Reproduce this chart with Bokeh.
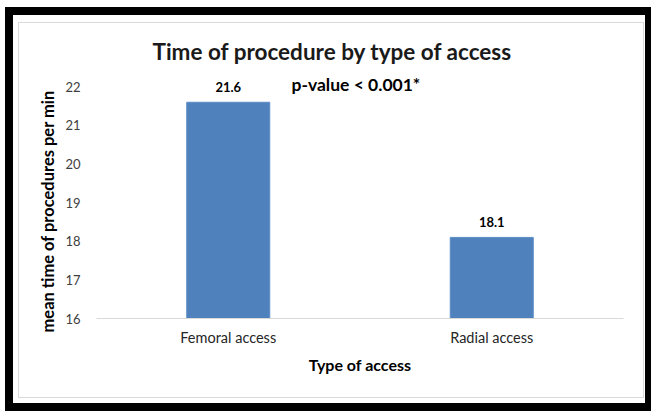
from bokeh.plotting import figure
from bokeh.models import (ColumnDataSource, FactorRange, Range1d, FixedTicker,
                          LabelSet, Label, Title)
from bokeh.core.properties import value
from bokeh.embed import file_html
from bokeh.resources import INLINE

# Chart data
access_types = ["Femoral access", "Radial access"]
mean_minutes = [21.6, 18.1]
value_labels = ["21.6", "18.1"]
y_ticks = [16, 17, 18, 19, 20, 21, 22]
title_text = "Time of procedure by type of access"
y_title = "mean time of procedures per min"
x_title = "Type of access"
note_text = "p-value < 0.001*"

FONT = "Lato"
BAR = "#4f81bd"

source = ColumnDataSource(dict(access=access_types, minutes=mean_minutes,
                               label=value_labels))

p = figure(width=651, height=411, output_backend="svg", toolbar_location=None,
           x_range=FactorRange(*access_types, range_padding=0),
           y_range=Range1d(16, 22.5),
           min_border_left=96, min_border_right=28,
           min_border_top=67, min_border_bottom=93)

p.background_fill_color = "white"
p.border_fill_color = None
p.outline_line_color = None
p.xgrid.grid_line_color = None
p.ygrid.grid_line_color = None

# Black picture frame with a thin grey chart-area border inside it
p.styles = {"box-shadow": ", ".join([
    "inset 5px 7px 0 0 white",
    "inset 13px 15px 0 0 black",
    "inset -6px -8px 0 0 black",
    "inset 18px 22px 0 0 white",
    "inset -7px -13px 0 0 white",
    "inset 19px 23px 0 0 #d9d9d9",
    "inset -8px -14px 0 0 #d9d9d9",
])}

p.vbar(x="access", top="minutes", bottom=16, width=0.315, source=source,
       fill_color=BAR, line_color="#5b8cc6", line_width=1)

# Axes
p.yaxis.ticker = FixedTicker(ticks=y_ticks)
p.yaxis.axis_line_color = None
p.yaxis.major_tick_line_color = None
p.yaxis.minor_tick_line_color = None
p.yaxis.major_label_text_font = FONT
p.yaxis.major_label_text_font_size = "13px"
p.yaxis.major_label_text_color = "#404040"
p.yaxis.major_label_standoff = 10

p.xaxis.axis_line_color = "#d9d9d9"
p.xaxis.major_tick_line_color = None
p.xaxis.minor_tick_line_color = None
p.xaxis.major_label_text_font = FONT
p.xaxis.major_label_text_font_size = "14.5px"
p.xaxis.major_label_text_color = "#262626"
p.xaxis.major_label_standoff = 4
p.xaxis.axis_label = x_title
p.xaxis.axis_label_text_font = FONT
p.xaxis.axis_label_text_font_style = "bold"
p.xaxis.axis_label_text_font_size = "16px"
p.xaxis.axis_label_text_color = "black"
p.xaxis.axis_label_standoff = 6

# Vertical axis title, anchored at the bottom of the value axis
p.add_layout(Title(text=y_title, align="left", offset=-14, standoff=10,
                   text_font=FONT, text_font_style="bold",
                   text_font_size="16.5px", text_color="black"), "left")

# Chart title
p.title.text = title_text
p.title.align = "left"
p.title.offset = 56
p.title.standoff = 6
p.title.text_font = FONT
p.title.text_font_style = "bold"
p.title.text_font_size = "22.5px"
p.title.text_color = "#1a1a1a"

# Value labels above bars
p.add_layout(LabelSet(x="access", y="minutes", text="label", source=source,
                      y_offset=10, text_align="center", text_baseline="bottom",
                      text_font=value(FONT), text_font_style="bold",
                      text_font_size="13px", text_color="black"))

# Significance note
p.add_layout(Label(x=0.74, y=22, y_offset=2, text=note_text, text_align="left",
                   text_baseline="middle", text_font=FONT,
                   text_font_style="bold", text_font_size="17.5px",
                   text_color="black"))

open("out.html", "w").write(file_html(p, INLINE))
